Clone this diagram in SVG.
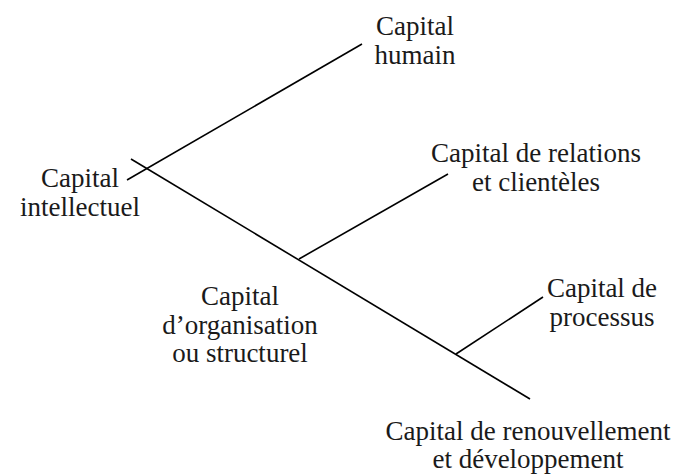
<svg xmlns="http://www.w3.org/2000/svg" width="682" height="476" viewBox="0 0 682 476">
<style>
text{font-family:"Liberation Serif","DejaVu Serif",serif;font-size:27px;fill:#1a1a1a;text-anchor:middle}
line{stroke:#000;stroke-width:1.6}
</style>
<rect width="682" height="476" fill="#fff"/>
<g id="connectors">
<line x1="131" y1="159" x2="530" y2="399"/>
<line x1="127" y1="180" x2="362" y2="44"/>
<line x1="299" y1="259" x2="448" y2="174"/>
<line x1="456" y1="354" x2="543" y2="297"/>
</g>
<g id="humain"><text x="415" y="35">Capital</text><text x="415" y="64">humain</text></g>
<g id="relations"><text x="536" y="162">Capital de relations</text><text x="536" y="191">et clientèles</text></g>
<g id="intellectuel"><text x="80" y="187">Capital</text><text x="80" y="216">intellectuel</text></g>
<g id="organisation"><text x="240" y="305">Capital</text><text x="240" y="334">d’organisation</text><text x="240" y="362">ou structurel</text></g>
<g id="processus"><text x="602" y="297">Capital de</text><text x="602" y="326">processus</text></g>
<g id="renouvellement"><text x="528" y="440">Capital de renouvellement</text><text x="528" y="468">et développement</text></g>
</svg>
